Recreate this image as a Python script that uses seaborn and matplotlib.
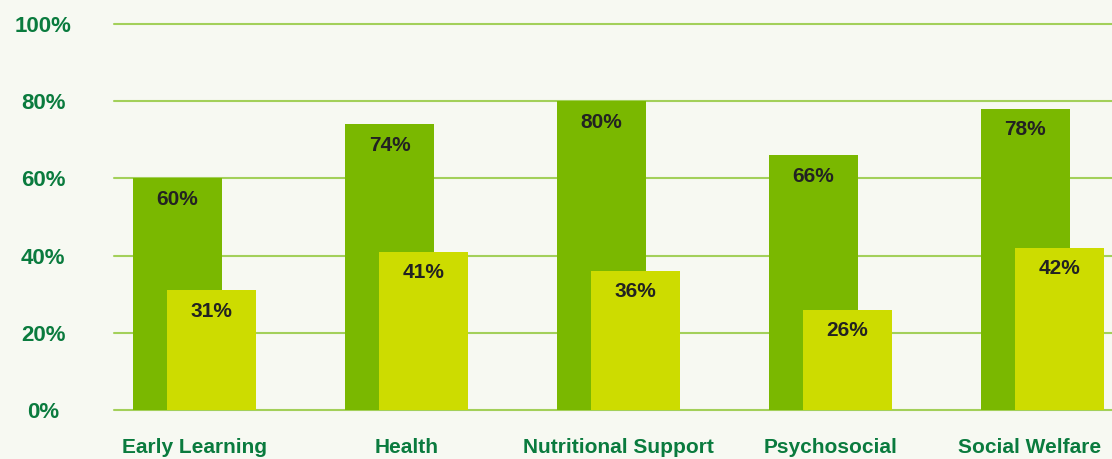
import matplotlib
matplotlib.use("Agg")
import matplotlib.pyplot as plt
import matplotlib.transforms as mtransforms
import seaborn as sns
import pandas as pd

categories = ["Early Learning", "Health", "Nutritional Support", "Psychosocial", "Social Welfare"]
series_a = [60, 74, 80, 66, 78]
series_b = [31, 41, 36, 26, 42]
y_ticks = [0, 20, 40, 60, 80, 100]

BG = "#f7f9f2"
DARK = "#7ab800"
LIGHT = "#cddc00"
TXT_GREEN = "#0a7b3e"
GRID = "#a3d05a"

sns.set_theme(style="white")
plt.rcParams["font.family"] = ["Liberation Sans", "DejaVu Sans"]

fig = plt.figure(figsize=(11.12, 4.59), dpi=100, facecolor=BG)
ax = fig.add_axes([114 / 1112, 49 / 459, 998 / 1112, 386 / 459])
ax.set_facecolor(BG)

df_a = pd.DataFrame({"cat": categories, "val": series_a})
df_b = pd.DataFrame({"cat": categories, "val": series_b})

sns.barplot(data=df_a, x="cat", y="val", color=DARK, saturation=1, width=0.42,
            ax=ax, zorder=2, errorbar=None, linewidth=0, edgecolor="none")
sns.barplot(data=df_b, x="cat", y="val", color=LIGHT, saturation=1, width=0.42,
            ax=ax, zorder=3, errorbar=None, linewidth=0, edgecolor="none")

shift = 0.08
for p in ax.containers[0]:
    p.set_x(p.get_x() - shift)
for p in ax.containers[1]:
    p.set_x(p.get_x() + shift)

for cont, vals in zip(ax.containers, [series_a, series_b]):
    for p, v in zip(cont, vals):
        ax.annotate(f"{v}%", (p.get_x() + p.get_width() / 2, p.get_height()),
                    xytext=(0, -15), textcoords="offset points",
                    ha="center", va="center", fontsize=15, fontweight="bold",
                    color="#222222", zorder=5)

ax.set_xlim(-0.38, 4.33)
ax.set_ylim(0, 100)
ax.set_yticks(y_ticks, labels=[f"{t}%" for t in y_ticks])
ax.yaxis.grid(True, color=GRID, linewidth=1.5)
ax.set_axisbelow(True)
for gl in ax.get_ygridlines():
    gl.set_clip_on(False)
for s in ax.spines.values():
    s.set_visible(False)

ax.tick_params(axis="y", length=0, pad=51, labelsize=16, labelcolor=TXT_GREEN)
for lbl in ax.get_yticklabels():
    lbl.set_ha("center")
    lbl.set_fontweight("bold")

ax.tick_params(axis="x", length=0, pad=20, labelsize=15, labelcolor=TXT_GREEN)
for lbl in ax.get_xticklabels():
    lbl.set_fontweight("bold")
    lbl.set_fontfamily(["Liberation Sans Narrow", "Liberation Sans", "DejaVu Sans"])
last = ax.get_xticklabels()[-1]
last.set_transform(last.get_transform() +
                   mtransforms.ScaledTranslation(-13 / 100, 0, fig.dpi_scale_trans))

ax.set_xlabel("")
ax.set_ylabel("")

fig.savefig("out.png", dpi=100, facecolor=BG)
